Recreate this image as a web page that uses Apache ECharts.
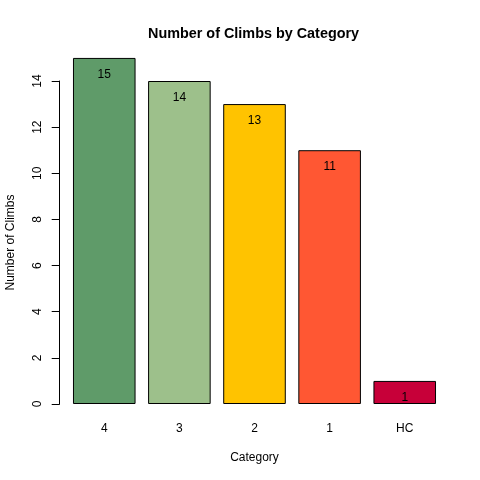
<!DOCTYPE html>
<html>
<head>
<meta charset="utf-8">
<script src="https://cdn.jsdelivr.net/npm/echarts@6/dist/echarts.min.js"></script>
<style>
  html, body { margin: 0; padding: 0; background: #fff; }
  #main { width: 480px; height: 480px; }
</style>
</head>
<body>
<div id="main"></div>
<script>
// data
var categories = ['4', '3', '2', '1', 'HC']
var climbs = [15, 14, 13, 11, 1]
var barColors = ['#5F9B69', '#9DC08B', '#FFC300', '#FF5733', '#C70039']
var yTicks = [0, 2, 4, 6, 8, 10, 12, 14]

var font = 'Liberation Sans, Arial, sans-serif'

var myChart = echarts.init(document.getElementById('main'))

var option = {
  backgroundColor: '#fff',
  animation: false,
  title: {
    text: 'Number of Climbs by Category',
    left: 143, // centred over the plot region, not the page
    top: 22,
    textStyle: { fontFamily: font, fontSize: 14.4, fontWeight: 'bold', color: '#000' }
  },
  // bars live in this box; no auto shrinking for labels
  grid: { left: 66.7, right: 37.7, top: 81, bottom: 76, containLabel: false, outerBoundsMode: 'none' },
  xAxis: {
    type: 'category',
    data: categories,
    name: 'Category',
    nameLocation: 'middle',
    nameGap: 48,
    nameTextStyle: { fontFamily: font, fontSize: 12, color: '#000' },
    axisLine: { show: false },
    axisTick: { show: false },
    axisLabel: { fontFamily: font, fontSize: 12, color: '#000', margin: 19 }
  },
  yAxis: {
    type: 'value',
    min: yTicks[0],
    max: yTicks[yTicks.length - 1],
    interval: 2,
    offset: 7,
    name: 'Number of Climbs',
    nameLocation: 'middle',
    nameGap: 43,
    nameTextStyle: { fontFamily: font, fontSize: 12, color: '#000' },
    splitLine: { show: false },
    axisLine: { show: true, lineStyle: { color: '#000', width: 1 } },
    axisTick: { show: true, length: 8, lineStyle: { color: '#000' } },
    axisLabel: { fontFamily: font, fontSize: 12, color: '#000', rotate: 90, margin: 16 }
  },
  series: [{
    type: 'bar',
    clip: false,
    barCategoryGap: '16.7%',
    data: climbs.map(function (v, i) {
      return { value: v, itemStyle: { color: barColors[i] } }
    }),
    itemStyle: { borderColor: '#000', borderWidth: 1 },
    label: {
      show: true,
      position: 'insideTop',
      distance: 10.5,
      fontFamily: font,
      fontSize: 12,
      color: '#000'
    }
  }]
}
myChart.setOption(option)
</script>
</body>
</html>
